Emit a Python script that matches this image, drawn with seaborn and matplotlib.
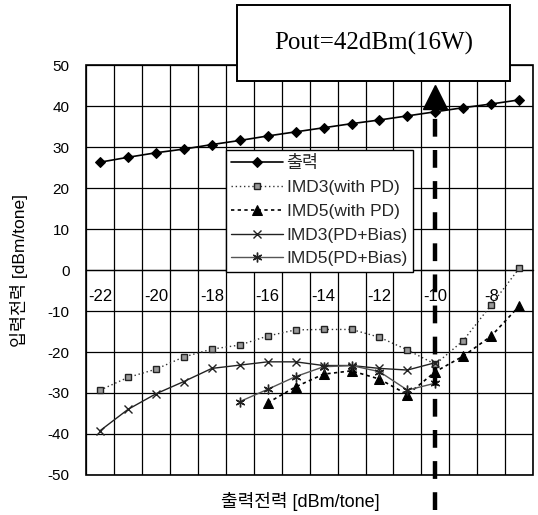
import matplotlib
matplotlib.use("Agg")
import matplotlib.pyplot as plt
import numpy as np
import seaborn as sns
from matplotlib.patches import Rectangle

nan = np.nan

# category axis: output power per tone [dBm]
categories = list(range(-22, -6))
tick_labels = [str(c) for c in categories[::2]]

output_power = [26.3, 27.5, 28.6, 29.5, 30.6, 31.6, 32.7, 33.7,
                34.7, 35.7, 36.6, 37.6, 38.6, 39.6, 40.5, 41.5]
imd3_pd = [-29.3, -26.2, -24.2, -21.2, -19.3, -18.3, -16.1, -14.6,
           -14.5, -14.5, -16.4, -19.5, -23.0, -17.2, -8.5, 0.4]
imd5_pd = [nan, nan, nan, nan, nan, nan, -32.4, -28.5,
           -25.4, -24.6, -26.6, -30.4, -24.8, -21.0, -16.1, -8.8]
imd3_bias = [-39.2, -34.0, -30.2, -27.2, -24.0, -23.2, -22.4, -22.4,
             -23.3, -23.3, -24.0, -24.4, -22.6, nan, nan, nan]
imd5_bias = [nan, nan, nan, nan, nan, -32.1, -29.1, -26.0,
             -23.6, -23.3, -24.8, -29.3, -27.6, nan, nan, nan]

series_names = ["출력", "IMD3(with PD)", "IMD5(with PD)",
                "IMD3(PD+Bias)", "IMD5(PD+Bias)"]
series_values = [output_power, imd3_pd, imd5_pd, imd3_bias, imd5_bias]

pout_category = -10
pout_text = "Pout=42dBm(16W)"

# line styles for each series (same order as series_names)
styles = [
    dict(color="black", linestyle="-", lw=1.2, marker="D", ms=5,
         mfc="black", mec="black"),
    dict(color="#333333", linestyle=(0, (1, 2)), lw=1.0, marker="s", ms=5,
         mfc="#9a9a9a", mec="#222222", mew=1.0),
    dict(color="black", linestyle=(0, (2, 2)), lw=1.2, marker="^", ms=6.5,
         mfc="black", mec="black"),
    dict(color="#222222", linestyle="-", lw=1.0, marker="x", ms=6,
         mec="#222222", mew=1.0),
    dict(color="#555555", linestyle="-", lw=1.0, marker=(6, 2, 0), ms=7,
         mec="#222222", mew=1.0),
]

sns.set_theme(style="white")
plt.rcParams["font.family"] = ["Liberation Sans", "Noto Sans CJK KR"]
plt.rcParams["axes.unicode_minus"] = False

fig = plt.figure(figsize=(5.38, 5.15), dpi=100)
ax = fig.add_axes([0.160, 0.0777, 0.831, 0.796])

for name, values, st in zip(series_names, series_values, styles):
    sns.lineplot(x=categories, y=values, ax=ax, estimator=None, sort=False,
                 label=name, zorder=3, **st)

ax.set_xlim(categories[0] - 0.5, categories[-1] + 0.5)
ax.set_ylim(-50, 50)
ax.set_yticks(np.arange(-50, 51, 10))
ax.set_xticks(categories[::2])
ax.set_xticklabels(tick_labels)
ax.set_xticks(np.arange(categories[0] - 0.5, categories[-1] + 1), minor=True)

ax.grid(which="major", axis="y", color="black", lw=0.9)
ax.grid(which="minor", axis="x", color="black", lw=0.9)
ax.set_axisbelow(True)

# x axis crosses at 0, labels drawn inside the plot
for side in ["top", "right", "left"]:
    ax.spines[side].set_visible(False)
ax.spines["bottom"].set_position(("data", 0))
ax.spines["bottom"].set_color("black")
ax.spines["bottom"].set_linewidth(0.9)
ax.add_patch(Rectangle((0, 0), 1, 1, transform=ax.transAxes, fill=False,
                       ec="black", lw=1.2, clip_on=False, zorder=4))

ax.tick_params(axis="x", which="both", length=0, pad=14, labelsize=12,
               colors="black")
ax.tick_params(axis="y", which="both", length=0, pad=12, labelsize=11,
               colors="black")

ax.set_xlabel("출력전력 [dBm/tone]", fontsize=13, color="black")
ax.xaxis.set_label_coords(0.479, -0.042)
ax.set_ylabel("입력전력 [dBm/tone]", fontsize=12.5, color="black")
ax.yaxis.set_label_coords(-0.13, 0.5)

ax.legend(loc="upper left", bbox_to_anchor=(0.3125, 0.793), fontsize=12.5,
          frameon=True, fancybox=False, edgecolor="black", framealpha=1,
          handlelength=3.0, handletextpad=0.2, labelspacing=0.5,
          borderpad=0.3, borderaxespad=0)
ax.get_legend().get_frame().set_linewidth(1.0)

# thick dashed arrow marking Pout = 42 dBm
ax.plot([pout_category, pout_category], [-58.5, 40], color="black", lw=3.2,
        dashes=(4, 3), clip_on=False, zorder=5)
ax.plot([pout_category], [42.2], marker="^", ms=17, color="black",
        clip_on=False, zorder=5)

# annotation box above the plot
fig.patches.append(Rectangle((0.4405, 0.8427), 0.5074, 0.1476,
                             transform=fig.transFigure, facecolor="white",
                             edgecolor="black", lw=1.4, zorder=10))
fig.text(0.694, 0.9165, pout_text, ha="center", va="center", fontsize=18,
         family="Liberation Serif", color="black", zorder=11)

fig.savefig("out.png", dpi=100)
